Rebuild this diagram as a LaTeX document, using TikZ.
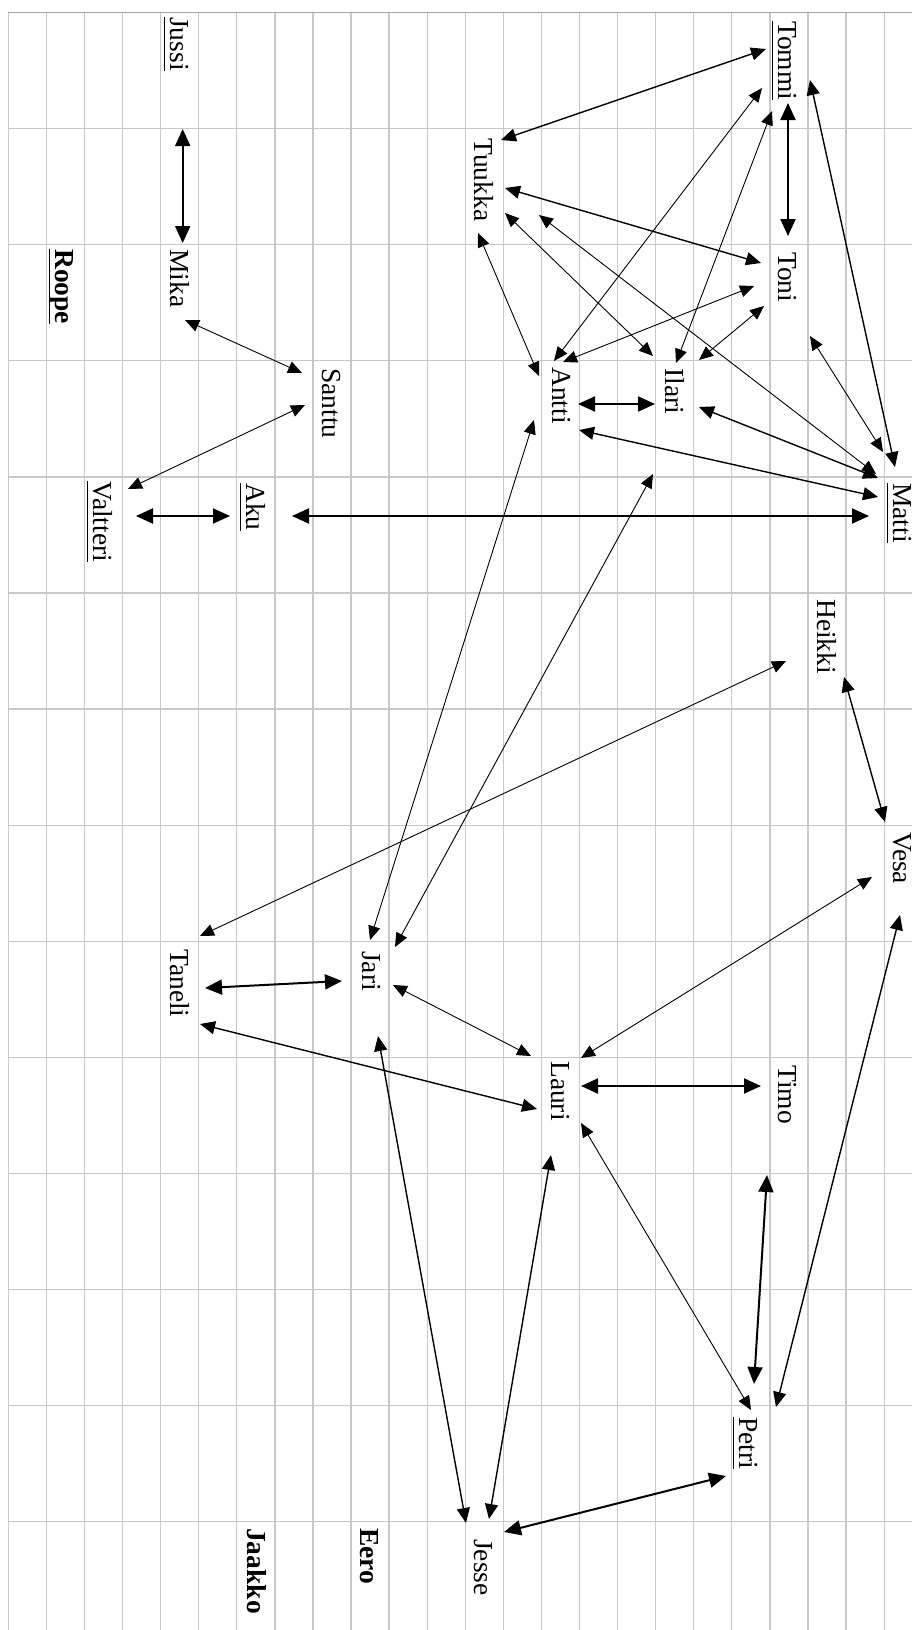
\documentclass[tikz,border=0pt]{standalone}
\usepackage{fontspec}
\setmainfont{Liberation Serif}
\usetikzlibrary{arrows.meta}
\begin{document}
\begin{tikzpicture}[x=1pt,y=-1pt,
  lbl/.style={rotate=-90, anchor=base west, inner sep=0pt, font=\fontsize{27.5}{30}\selectfont},
  blbl/.style={lbl, font=\fontsize{27.5}{30}\selectfont\bfseries},
  uline/.style={line width=1.6pt},
  gridline/.style={draw={rgb,255:red,200;green,200;blue,200}, line width=1.3pt},
  gridtop/.style={draw={rgb,255:red,165;green,165;blue,165}, line width=1.8pt},
  con/.style={<->, >={Triangle[length=14pt,width=12pt]}, line width=0.9pt},
  conm/.style={<->, >={Triangle[length=15pt,width=13pt]}, line width=1.4pt},
  conk/.style={<->, >={Triangle[length=17pt,width=15pt]}, line width=2pt}]
\useasboundingbox (0,0) rectangle (912,1630);
\fill[white] (0,0) rectangle (912,1630);
% grid
\foreach \i in {0,...,23} \draw[gridline] ({8.3+38.08*\i},12.5) -- ({8.3+38.08*\i},1630);
\foreach \j in {1,...,13} \draw[gridline] (8.3,{12.5+116.1*\j}) -- (912,{12.5+116.1*\j});
\draw[gridtop] (8.3,12.5) -- (912,12.5);
% names
\node[lbl] (jussi) at (170,17) {Jussi};
\node[lbl] (mika) at (170,249) {Mika};
\node[blbl] (roope) at (55,249) {Roope};
\node[lbl] (santtu) at (322,368) {Santtu};
\node[lbl] (valtteri) at (93,481) {Valtteri};
\node[lbl] (aku) at (246,483) {Aku};
\node[lbl] (tommi) at (778,21) {Tommi};
\node[lbl] (tuukka) at (474,138) {Tuukka};
\node[lbl] (toni) at (778,252) {Toni};
\node[lbl] (antti) at (552,367) {Antti};
\node[lbl] (ilari) at (665,368) {Ilari};
\node[lbl] (matti) at (893,483) {Matti};
\node[lbl] (heikki) at (817,599) {Heikki};
\node[lbl] (vesa) at (893,832) {Vesa};
\node[lbl] (taneli) at (170,949) {Taneli};
\node[lbl] (jari) at (362,951) {Jari};
\node[lbl] (lauri) at (551,1061) {Lauri};
\node[lbl] (timo) at (778,1065) {Timo};
\node[lbl] (petri) at (739,1417) {Petri};
\node[lbl] (jesse) at (474,1539) {Jesse};
\node[blbl] (eero) at (360,1528) {Eero};
\node[blbl] (jaakko) at (247,1528) {Jaakko};
% underlines
\foreach \n in {jussi,roope,valtteri,aku,tommi,matti,petri}
  \draw[uline] ([xshift=-5.5pt]\n.base west) -- ([xshift=-5.5pt]\n.base east);
% connectors
\draw[conk] ([shift={(12.7,112)}]jussi.base west) -- ([shift={(12.7,-6)}]mika.base west);
\draw[con]  ([shift={(15,71)}]mika.base west) -- ([shift={(-20,5)}]santtu.base west);
\draw[con]  ([shift={(-17,37)}]santtu.base west) -- ([shift={(35,8)}]valtteri.base west);
\draw[conk] ([shift={(43,35)}]valtteri.base west) -- ([shift={(-16,33)}]aku.base west);
\draw[conk] ([shift={(46,33)}]aku.base west) -- ([shift={(-24,33)}]matti.base west);
\draw[conm] ([shift={(-12,28)}]tommi.base west) -- ([shift={(27,2)}]tuukka.base west);
\draw[conk] ([shift={(10,82)}]tommi.base west) -- ([shift={(10,-16)}]toni.base west);
\draw[con]  ([shift={(-16,67)}]tommi.base west) -- ([shift={(2,-6)}]antti.base west);
\draw[con]  ([shift={(-6,90)}]tommi.base west) -- ([shift={(11,-5)}]ilari.base west);
\draw[conm] ([shift={(32,59)}]tommi.base west) -- ([shift={(2,-16)}]matti.base west);
\draw[conm] ([shift={(31,50)}]tuukka.base west) -- ([shift={(-17,11)}]toni.base west);
\draw[con]  ([shift={(31,75)}]tuukka.base west) -- ([shift={(-12,-12)}]ilari.base west);
\draw[con]  ([shift={(65,77)}]tuukka.base west) -- ([shift={(-17,-9)}]matti.base west);
\draw[con]  ([shift={(4,95)}]tuukka.base west) -- ([shift={(-13,9)}]antti.base west);
\draw[con]  ([shift={(-24,34)}]toni.base west) -- ([shift={(11,-5)}]antti.base west);
\draw[con]  ([shift={(-14,54)}]toni.base west) -- ([shift={(34,-8)}]ilari.base west);
\draw[con]  ([shift={(32,84)}]toni.base west) -- ([shift={(-10,-31)}]matti.base west);
\draw[conk] ([shift={(26,37)}]antti.base west) -- ([shift={(-10,36)}]ilari.base west);
\draw[conm] ([shift={(34,39)}]ilari.base west) -- ([shift={(-15,-5)}]matti.base west);
\draw[conm] ([shift={(27,63)}]antti.base west) -- ([shift={(-15,14)}]matti.base west);
\draw[con]  ([shift={(-18,53)}]antti.base west) -- ([shift={(8,-11)}]jari.base west);
\draw[con]  ([shift={(-12,106)}]ilari.base west) -- ([shift={(33,-4)}]jari.base west);
\draw[con]  ([shift={(-31,62)}]heikki.base west) -- ([shift={(30,-13)}]taneli.base west);
\draw[conm] ([shift={(27,78)}]heikki.base west) -- ([shift={(-8,-10)}]vesa.base west);
\draw[con]  ([shift={(-21,45)}]vesa.base west) -- ([shift={(30,-3)}]lauri.base west);
\draw[conm] ([shift={(7,83)}]vesa.base west) -- ([shift={(37,-10)}]petri.base west);
\draw[conk] ([shift={(-20,30)}]jari.base west) -- ([shift={(35,39)}]taneli.base west);
\draw[con]  ([shift={(31,34)}]jari.base west) -- ([shift={(-20,-5)}]lauri.base west);
\draw[conm] ([shift={(30,75)}]taneli.base west) -- ([shift={(-14,48)}]lauri.base west);
\draw[conk] ([shift={(30,25)}]lauri.base west) -- ([shift={(-17,21)}]timo.base west);
\draw[con]  ([shift={(30,62)}]lauri.base west) -- ([shift={(12,-7)}]petri.base west);
\draw[conm] ([shift={(0,94)}]lauri.base west) -- ([shift={(15,-20)}]jesse.base west);
\draw[conm] ([shift={(16,85)}]jari.base west) -- ([shift={(-8,-16)}]jesse.base west);
\draw[conk] ([shift={(-11,110)}]timo.base west) -- ([shift={(15,-33)}]petri.base west);
\draw[conk] ([shift={(-13,59)}]petri.base west) -- ([shift={(30,-7)}]jesse.base west);
\end{tikzpicture}
\end{document}
